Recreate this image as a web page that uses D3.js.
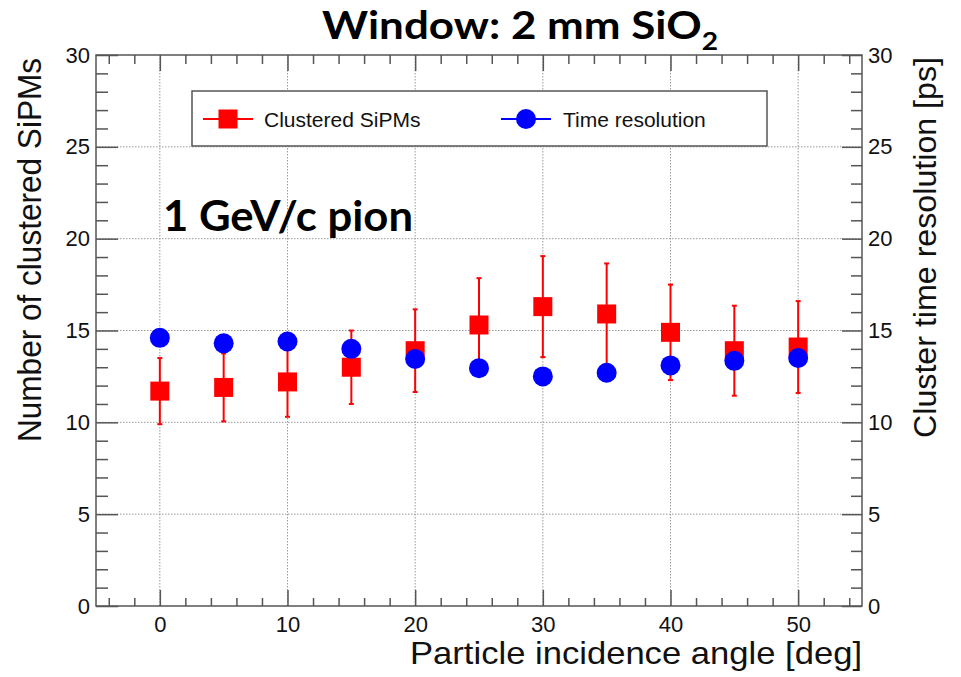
<!DOCTYPE html>
<html>
<head>
<meta charset="utf-8">
<script src="https://cdn.jsdelivr.net/npm/d3@7/dist/d3.min.js"></script>
<style>
  html, body { margin: 0; padding: 0; background: #fff; }
  svg { display: block; }
</style>
</head>
<body>
<svg id="chart" width="961" height="677"></svg>
<script>
// Incidence angles [deg]
const angles = [0, 5, 10, 15, 20, 25, 30, 35, 40, 45, 50];
// Number of clustered SiPMs (mean and symmetric error)
const clusteredSiPMs = [11.7, 11.9, 12.2, 13.0, 13.9, 15.3, 16.3, 15.9, 14.9, 13.9, 14.1];
const clusteredErr   = [1.8, 1.85, 1.9, 2.0, 2.25, 2.55, 2.75, 2.75, 2.6, 2.45, 2.5];
// Cluster time resolution [ps]
const timeResolution = [14.6, 14.3, 14.4, 14.0, 13.45, 12.95, 12.5, 12.7, 13.1, 13.35, 13.5];

const xTickValues = [0, 10, 20, 30, 40, 50];
const xMinorValues = d3.range(-4, 55, 2).filter(v => v % 10 !== 0);
const yTickValues = [0, 5, 10, 15, 20, 25, 30];
const yMinorValues = d3.range(1, 30, 1).filter(v => v % 5 !== 0);
const yGridValues = [5, 10, 15, 20, 25];

const frame = { left: 96, right: 862, top: 55, bottom: 606 };
const axisFont = '"Liberation Sans", Arial, Helvetica, sans-serif';
const boldFont = 'Lato, "Open Sans", "Noto Sans", sans-serif';

const svg = d3.select("#chart");

const x = d3.scaleLinear().domain([-5, 55]).range([frame.left, frame.right]);
const yLeft = d3.scaleLinear().domain([0, 30]).range([frame.bottom, frame.top]);
const yRight = d3.scaleLinear().domain([0, 30]).range([frame.bottom, frame.top]);

// dotted grid at major ticks
const grid = svg.append("g").attr("stroke", "#9a9a9a").attr("stroke-width", 1).attr("stroke-dasharray", "1.5,1.5");
grid.selectAll("line.gx").data(xTickValues).join("line")
  .attr("x1", d => x(d)).attr("x2", d => x(d))
  .attr("y1", frame.top).attr("y2", frame.bottom);
grid.selectAll("line.gy").data(yGridValues).join("line")
  .attr("x1", frame.left).attr("x2", frame.right)
  .attr("y1", d => yLeft(d)).attr("y2", d => yLeft(d));

function styleAxis(g) {
  g.select(".domain").remove();
  g.selectAll(".tick line").attr("stroke", "#555").attr("stroke-width", 1.5);
  g.selectAll(".tick text")
    .style("font-family", axisFont).style("font-size", "22px").attr("fill", "#111");
}

// bottom axis (ticks pointing inward)
svg.append("g").attr("transform", `translate(0,${frame.bottom})`)
  .call(d3.axisBottom(x).tickValues(xTickValues).tickSizeInner(-16).tickSizeOuter(0).tickPadding(10).tickFormat(d3.format("d")))
  .call(styleAxis);
svg.append("g").attr("transform", `translate(0,${frame.bottom})`)
  .call(d3.axisBottom(x).tickValues(xMinorValues).tickSizeInner(-8).tickSizeOuter(0).tickFormat(""))
  .call(styleAxis);
// top axis
svg.append("g").attr("transform", `translate(0,${frame.top})`)
  .call(d3.axisTop(x).tickValues(xTickValues).tickSizeInner(-16).tickSizeOuter(0).tickFormat(""))
  .call(styleAxis);
svg.append("g").attr("transform", `translate(0,${frame.top})`)
  .call(d3.axisTop(x).tickValues(xMinorValues).tickSizeInner(-9).tickSizeOuter(0).tickFormat(""))
  .call(styleAxis);
// left axis
svg.append("g").attr("transform", `translate(${frame.left},0)`)
  .call(d3.axisLeft(yLeft).tickValues(yTickValues).tickSizeInner(-22).tickSizeOuter(0).tickPadding(6).tickFormat(d3.format("d")))
  .call(styleAxis);
svg.append("g").attr("transform", `translate(${frame.left},0)`)
  .call(d3.axisLeft(yLeft).tickValues(yMinorValues).tickSizeInner(-12).tickSizeOuter(0).tickFormat(""))
  .call(styleAxis);
// right axis
svg.append("g").attr("transform", `translate(${frame.right},0)`)
  .call(d3.axisRight(yRight).tickValues(yTickValues).tickSizeInner(-20).tickSizeOuter(0).tickPadding(6).tickFormat(d3.format("d")))
  .call(styleAxis);
svg.append("g").attr("transform", `translate(${frame.right},0)`)
  .call(d3.axisRight(yRight).tickValues(yMinorValues).tickSizeInner(-11).tickSizeOuter(0).tickFormat(""))
  .call(styleAxis);

// frame
svg.append("rect")
  .attr("x", frame.left).attr("y", frame.top)
  .attr("width", frame.right - frame.left).attr("height", frame.bottom - frame.top)
  .attr("fill", "none").attr("stroke", "#555").attr("stroke-width", 1.5);

// axis titles
svg.append("text")
  .attr("x", frame.right).attr("y", 664)
  .attr("text-anchor", "end")
  .attr("font-family", axisFont).attr("font-size", 32).attr("fill", "#111")
  .attr("textLength", 452).attr("lengthAdjust", "spacingAndGlyphs")
  .text("Particle incidence angle [deg]");
svg.append("text")
  .attr("transform", "translate(41,58) rotate(-90)")
  .attr("text-anchor", "end")
  .attr("font-family", axisFont).attr("font-size", 33).attr("fill", "#111")
  .attr("textLength", 384).attr("lengthAdjust", "spacingAndGlyphs")
  .text("Number of clustered SiPMs");
svg.append("text")
  .attr("transform", "translate(936,57) rotate(-90)")
  .attr("text-anchor", "end")
  .attr("font-family", axisFont).attr("font-size", 31).attr("fill", "#111")
  .attr("textLength", 381).attr("lengthAdjust", "spacingAndGlyphs")
  .text("Cluster time resolution [ps]");

// legend
const legend = svg.append("g");
legend.append("rect")
  .attr("x", 192).attr("y", 91).attr("width", 575).attr("height", 55)
  .attr("fill", "#fff").attr("stroke", "#555").attr("stroke-width", 1.5);
legend.append("line").attr("x1", 203).attr("x2", 253).attr("y1", 119).attr("y2", 119)
  .attr("stroke", "#ff0000").attr("stroke-width", 2);
legend.append("rect").attr("x", 228 - 9.5).attr("y", 119 - 9.5).attr("width", 19).attr("height", 19)
  .attr("fill", "#ff0000");
legend.append("text").attr("x", 264).attr("y", 127)
  .attr("font-family", axisFont).attr("font-size", 21).attr("fill", "#111")
  .text("Clustered SiPMs");
legend.append("line").attr("x1", 501).attr("x2", 551).attr("y1", 119).attr("y2", 119)
  .attr("stroke", "#0000ff").attr("stroke-width", 2);
legend.append("circle").attr("cx", 526).attr("cy", 119).attr("r", 10).attr("fill", "#0000ff");
legend.append("text").attr("x", 563).attr("y", 127)
  .attr("font-family", axisFont).attr("font-size", 21).attr("fill", "#111")
  .text("Time resolution");

// data: clustered SiPMs with error bars
const sipm = angles.map((a, i) => ({ a, v: clusteredSiPMs[i], e: clusteredErr[i] }));
const red = svg.append("g");
red.selectAll("line.err").data(sipm).join("line")
  .attr("x1", d => x(d.a)).attr("x2", d => x(d.a))
  .attr("y1", d => yLeft(d.v + d.e)).attr("y2", d => yLeft(d.v - d.e))
  .attr("stroke", "#ff0000").attr("stroke-width", 2);
red.selectAll("line.capHi").data(sipm).join("line")
  .attr("x1", d => x(d.a) - 2.5).attr("x2", d => x(d.a) + 2.5)
  .attr("y1", d => yLeft(d.v + d.e)).attr("y2", d => yLeft(d.v + d.e))
  .attr("stroke", "#ff0000").attr("stroke-width", 2);
red.selectAll("line.capLo").data(sipm).join("line")
  .attr("x1", d => x(d.a) - 2.5).attr("x2", d => x(d.a) + 2.5)
  .attr("y1", d => yLeft(d.v - d.e)).attr("y2", d => yLeft(d.v - d.e))
  .attr("stroke", "#ff0000").attr("stroke-width", 2);
red.selectAll("rect").data(sipm).join("rect")
  .attr("x", d => x(d.a) - 9.5).attr("y", d => yLeft(d.v) - 9.5)
  .attr("width", 19).attr("height", 19)
  .attr("fill", "#ff0000");

// data: time resolution
svg.append("g").selectAll("circle")
  .data(angles.map((a, i) => ({ a, v: timeResolution[i] })))
  .join("circle")
  .attr("cx", d => x(d.a)).attr("cy", d => yRight(d.v)).attr("r", 10)
  .attr("fill", "#0000ff");

// annotations
const title = svg.append("text")
  .attr("x", 322).attr("y", 39)
  .attr("font-family", boldFont).attr("font-weight", "bold").attr("font-size", 39).attr("fill", "#000")
  .attr("textLength", 396).attr("lengthAdjust", "spacingAndGlyphs");
title.append("tspan").text("Window: 2 mm SiO");
title.append("tspan").attr("dy", 11).attr("font-size", 25).text("2");

svg.append("text")
  .attr("x", 163).attr("y", 231)
  .attr("font-family", boldFont).attr("font-weight", "bold").attr("font-size", 42).attr("fill", "#000")
  .attr("textLength", 250).attr("lengthAdjust", "spacingAndGlyphs")
  .text("1 GeV/c pion");
</script>
</body>
</html>
